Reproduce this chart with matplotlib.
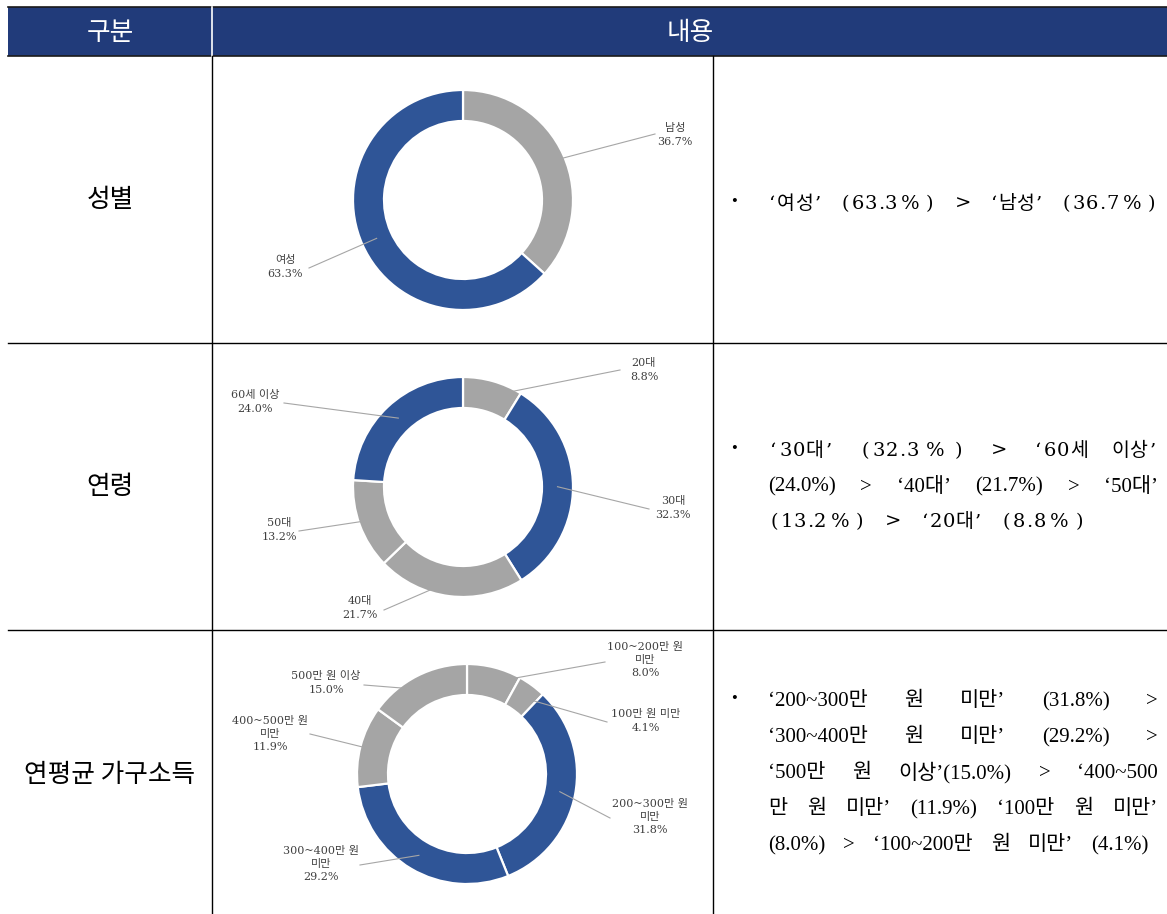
import math
import matplotlib
matplotlib.use("Agg")
import matplotlib.pyplot as plt
from matplotlib.patches import Rectangle
from matplotlib.font_manager import FontProperties

# ---- data -------------------------------------------------------------
gender_labels = ["남성", "여성"]
gender_values = [36.7, 63.3]

age_labels = ["20대", "30대", "40대", "50대", "60세 이상"]
age_values = [8.8, 32.3, 21.7, 13.2, 24.0]

income_labels = ["100~200만 원\n미만", "100만 원 미만", "200~300만 원\n미만",
                 "300~400만 원\n미만", "400~500만 원\n미만", "500만 원 이상"]
income_values = [8.0, 4.1, 31.8, 29.2, 11.9, 15.0]

row_titles = ["성별", "연령", "연평균 가구소득"]
header_titles = ["구분", "내용"]

gender_text = ["‘여성’ (63.3%) > ‘남성’ (36.7%)"]
age_text = ["‘30대’ (32.3%) > ‘60세 이상’",
            "(24.0%) > ‘40대’ (21.7%) > ‘50대’",
            "(13.2%) > ‘20대’ (8.8%)"]
income_text = ["‘200~300만 원 미만’ (31.8%) >",
               "‘300~400만 원 미만’ (29.2%) >",
               "‘500만 원 이상’(15.0%) > ‘400~500",
               "만 원 미만’ (11.9%) ‘100만 원 미만’",
               "(8.0%) > ‘100~200만 원 미만’ (4.1%)"]

# ---- styling ----------------------------------------------------------
NAVY = "#213B7A"
BLUE = "#2F5597"
GRAY = "#A5A5A5"
LEADER = "#A6A6A6"
gender_colors = [GRAY, BLUE]
age_colors = [GRAY, BLUE, GRAY, GRAY, BLUE]
income_colors = [GRAY, GRAY, BLUE, BLUE, GRAY, GRAY]

LABEL_FONT = ["DejaVu Serif", "Noto Sans CJK KR"]
TEXT_FONT = ["Liberation Serif", "Noto Sans CJK KR"]
WIDE_FONT = ["DejaVu Serif", "Noto Sans CJK KR"]
SANS_KR = ["Noto Sans CJK KR", "DejaVu Sans"]

W, H = 1167, 914
fig = plt.figure(figsize=(W / 100, H / 100), dpi=100)
ax = fig.add_axes([0, 0, 1, 1])


def Y(py):
    return H - py


# ---- table frame ------------------------------------------------------
TOP, HEAD_BOT = 7, 56
COL1, COL2, LEFT = 212, 713, 8
ROW_LINES = [343, 630]

ax.add_patch(Rectangle((LEFT, Y(HEAD_BOT)), W - LEFT, HEAD_BOT - TOP,
                       facecolor=NAVY, edgecolor="none", zorder=1))
ax.plot([LEFT, W], [Y(TOP), Y(TOP)], color="#1a1a1a", lw=1.2, zorder=2)
ax.plot([LEFT, W], [Y(HEAD_BOT), Y(HEAD_BOT)], color="#1a1a1a", lw=1.2, zorder=2)
ax.plot([COL1, COL1], [Y(TOP), Y(HEAD_BOT)], color="white", lw=1.2, zorder=2)
ax.plot([COL1, COL1], [Y(HEAD_BOT), Y(H)], color="black", lw=1.0, zorder=2)
ax.plot([COL2, COL2], [Y(HEAD_BOT), Y(H)], color="black", lw=1.0, zorder=2)
for ry in ROW_LINES:
    ax.plot([LEFT, W], [Y(ry), Y(ry)], color="black", lw=1.0, zorder=2)

ax.text(110, Y(33), header_titles[0], color="white", fontsize=18.5,
        family=SANS_KR, ha="center", va="center")
ax.text(690, Y(33), header_titles[1], color="white", fontsize=18.5,
        family=SANS_KR, ha="center", va="center")

row_centers = [200, 487, 775]
for title, cy in zip(row_titles, row_centers):
    ax.text(110, Y(cy), title, fontsize=18.5, family=SANS_KR,
            ha="center", va="center", color="black")

# ---- donuts -----------------------------------------------------------
R_OUT, RING = 110, 31


def donut(values, labels, colors, center, label_pos, leader_end):
    cx, cy = center
    wedges, _ = ax.pie(values, colors=colors, startangle=90, counterclock=False,
                       radius=R_OUT, center=(cx, Y(cy)), frame=True,
                       wedgeprops=dict(width=RING, edgecolor="white", linewidth=1.6))
    r_mid = R_OUT - RING / 2
    for w, lab, val, (lx, ly), (ex, ey) in zip(wedges, labels, values,
                                               label_pos, leader_end):
        mid = math.radians((w.theta1 + w.theta2) / 2)
        sx = cx + r_mid * math.cos(mid)
        sy = Y(cy) + r_mid * math.sin(mid)
        ax.plot([sx, ex], [sy, Y(ey)], color=LEADER, lw=0.8, zorder=3)
        ax.text(lx, Y(ly), f"{lab}\n{val:.1f}%", fontsize=8, family=LABEL_FONT,
                ha="center", va="center", linespacing=1.4, color="#404040")


donut(gender_values, gender_labels, gender_colors, (463, 200),
      [(675, 135), (285, 267)],
      [(655, 134), (309, 268)])

donut(age_values, age_labels, age_colors, (463, 487),
      [(644, 370), (673, 508), (360, 608), (279, 530), (255, 402)],
      [(620, 370), (649, 509), (384, 610), (299, 531), (284, 403)])

donut(income_values, income_labels, income_colors, (467, 774),
      [(645, 660), (646, 721), (650, 817), (321, 864), (270, 734), (326, 683)],
      [(605, 662), (607, 722), (610, 818), (360, 865), (310, 734), (364, 685)])

ax.set_xlim(0, W)
ax.set_ylim(0, H)
ax.set_aspect("auto")
ax.axis("off")

# ---- description column -----------------------------------------------
renderer = fig.canvas.get_renderer()
TX0, BULLET_X = 768, 734
text_prop = FontProperties(family=TEXT_FONT, size=15)
wide_prop = FontProperties(family=WIDE_FONT, size=14)

# how much of the stretch each kind of sign absorbs on a widened line
STRETCH = {" ": 2.0, "%": 1.4, "(": 0.8, ")": 0.8, "‘": 0.5, "’": 0.5,
           ">": 0.4, ".": 0.15}


def ink_width(s, prop):
    w, _, _ = renderer.get_text_width_height_descent(s, prop, ismath=False)
    return w


def advance(ch, prop):
    return ink_width("|" + ch + "|", prop) - ink_width("||", prop)


def stretch_weight(ch):
    if "\uac00" <= ch <= "\ud7a3":
        return 0.0
    if ch.isdigit():
        return 0.1
    return STRETCH.get(ch, 0.3)


def tracked_line(line, y, width):
    """Spaces and Latin signs widened so the line spans the given width."""
    advs = [advance(c, wide_prop) for c in line]
    weights = [stretch_weight(c) for c in line]
    extra = (width - sum(advs)) / sum(weights)
    x = TX0
    for c, a, wt in zip(line, advs, weights):
        cell = a + extra * wt
        if c != " ":
            ax.text(x + cell / 2, Y(y + 7), c, fontproperties=wide_prop,
                    ha="center", va="baseline")
        x += cell


def word_line(line, y, width):
    """Words placed with their gaps stretched to fill the given width."""
    words = line.split(" ")
    widths = [ink_width(wd, text_prop) for wd in words]
    gap = (width - sum(widths)) / max(len(words) - 1, 1)
    x = TX0
    for wd, wdt in zip(words, widths):
        ax.text(x, Y(y + 7), wd, fontproperties=text_prop,
                ha="left", va="baseline")
        x += wdt + gap


def paragraph(lines, y0, step, styles):
    ax.text(BULLET_X, Y(y0), "•", fontsize=12, family=TEXT_FONT,
            ha="center", va="center")
    for i, (line, (kind, width)) in enumerate(zip(lines, styles)):
        y = y0 + i * step
        if kind == "track":
            tracked_line(line, y, width)
        else:
            word_line(line, y, width)


paragraph(gender_text, 202, 36, [("track", 389)])
paragraph(age_text, 449, 35.5, [("track", 390), ("words", 390), ("track", 317)])
paragraph(income_text, 699, 36, [("words", 390), ("words", 390), ("words", 390),
                                 ("words", 390), ("words", 381)])

fig.savefig("out.png", dpi=100)
